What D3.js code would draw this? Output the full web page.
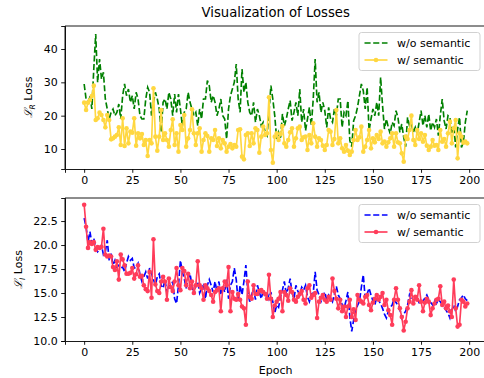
<!DOCTYPE html>
<html><head><meta charset="utf-8">
<script src="https://cdnjs.cloudflare.com/ajax/libs/d3/7.8.5/d3.min.js"></script>
<style>
html,body{margin:0;padding:0;background:#fff;}
svg{display:block;font-family:"DejaVu Sans",sans-serif;}
</style></head><body>
<script>
// ---- data ----
const epochs = d3.range(0, 200);
const xTicks = [0, 25, 50, 75, 100, 125, 150, 175, 200];
const topYTicks = [10, 20, 30, 40];
const botYTicks = [10.0, 12.5, 15.0, 17.5, 20.0, 22.5];
const seriesNames = ["w/o semantic", "w/ semantic"];

const lossR_wo = [
29.5,25,24,26,22,34,44.5,30,37,31,33,25,22,19,21,22,20,21,23.5,19,
26,29.5,26,28,24,26,22,27,25,20,19,19,25,28.5,27,20,24,27,25,22,
15,24,25,22,27,25,20,26.5,21,26.5,22,17,21,22,27,24,22,20,21,17,
22,19,25,25,30.5,29,24,26,24,20,22,25,20,19,13,22,26,28,30,35.5,
25,21,34,27,30,24,21,20,24,18,22,20,17,18,15,14,21,29,25,20,
13,15,13,20.5,17,19,22,24.5,18.5,21,24,20,28,18,22,15.5,19,22.5,17,25,
37,24,27,21,24,21.5,16.5,22.5,19,18,22,20,25,25,16.5,21,20,24.5,12.5,10.7,
18.5,20,22.5,26,29.5,27.5,22,28.5,15.5,19,22,20,24,20,31.5,23,16,19,16.5,14.5,
18,17,21.5,19.5,15,17.5,13.5,10.7,19.5,17,17.5,15,16.5,14.5,18,21.5,17,20,16.5,20.5,
15.5,18,16.5,19,14,20,25,18.5,16,20,19.5,14.5,17,10.5,16,19.5,10.5,12,18,21.5];

const lossR_w = [
23.9,21.7,23.9,24.7,25.9,29,18.7,19.2,20.9,20.2,18.7,16.5,20.2,18.7,12.9,13.2,13.7,14.2,16.5,11.2,
19.2,10.9,16.2,11.7,15.2,14.9,19.2,11,14.7,13.2,14.5,11.2,12.7,7.9,12.7,11.7,28.2,13.7,9.5,13.7,
21.7,12.7,14.7,12.7,10.7,15.7,18.9,11.2,14.7,9.2,17.2,15.7,20.2,10.7,13.2,15.7,21.9,14.7,11.2,14.7,
16.2,9.2,12.7,14.7,13.9,9.2,13.2,12.7,15.7,10.9,13.2,10.2,12.7,11.7,9.2,10.7,11.5,10.2,11.2,10.7,
15.7,15.9,7.7,6.9,14.2,14.7,10.9,14.7,11.7,16.2,15.7,8.9,13.7,16.7,14.2,14.7,25.5,9.7,5.9,13.7,
14.7,12.7,14.5,16.9,11.7,10.7,12.7,15,16.2,10.7,13.2,16.2,16.7,12.7,13.5,13.7,9.7,14.2,11.7,17.7,
13.7,10.7,13.2,12.7,11,9.7,11.2,15.7,15.2,11.2,13,21.7,11.7,13.2,10.2,9.2,11.2,9.5,8.2,9.2,
12.7,15.7,12.7,13.5,16.7,9.2,10.7,12.7,15.7,10.2,13.2,12,14.2,13,15.2,11.7,12.2,10.7,12,13.2,
14.7,10.7,14.7,12,11.7,8.7,6.2,13.7,13,15.7,20,12.7,11.2,15.7,13,14.7,12.2,14.2,11,9.7,
10.7,12.7,11,11.2,9.7,15.7,12.2,13,10.7,14.7,18.2,11.7,16.2,18.7,7.2,14.7,13.7,11.9,12.2,11.7];

const lossI_wo = [
22.8,21.9,20.3,21.4,20.2,20.7,19.7,19.3,19.5,20,19.0,19.3,20.5,18.4,19.1,17.9,18.4,17.7,17.9,17.6,
17.7,17.2,18.1,18.8,18.4,18.6,17.6,17.7,18.1,16.9,16.2,16.7,17.2,16.5,17.6,17.0,16.4,15.8,16.7,17.0,
15.8,15.5,16.4,15.0,15.8,15.7,16.2,14.4,13.9,15.8,18.4,17.2,16.5,15.5,16.5,17.0,15.8,14.8,15.8,16.2,
15.0,15.5,15.8,14.4,15.8,16.4,15.8,15.1,16.2,15.1,16.2,14.8,15.8,15.1,16.4,14.4,15.8,16.2,17.6,16.4,
14.1,15.8,14.8,16.2,17.9,15.1,14.1,14.8,15.5,14.3,15.8,15.1,14.4,15.3,14.8,15.1,14.4,15.1,14.1,12.9,
13.75,13.5,14.6,15.3,16.2,14.9,15.5,16.5,15.0,14.4,15.8,15.2,14.8,15.6,15.3,15.8,14.6,14.1,14.9,15.0,
17.2,15.3,14.8,14.1,14.6,15.1,14.3,14.8,14.5,14.1,14.9,15.7,14.8,14.4,13.8,13.4,14.2,15.1,12.5,11.0,
12.2,13.1,13.7,14.1,15.6,16.9,14.4,14.9,15.5,14.8,14.2,13.75,14.6,14.2,13.9,13.4,12.8,12.4,13.1,13.5,
13.75,14.4,14.0,13.75,13.3,12.4,12.8,13.1,13.75,14.8,14.3,14.1,14.6,14.4,14.0,14.3,14.1,14.5,14.8,14.3,
14.0,13.75,14.2,13.9,14.3,14.1,13.75,13.5,13.2,12.9,12.4,13.2,13.75,13.1,13.6,14.3,14.5,14.8,14.4,14.2];

const lossI_w = [
24.2,21.9,19.7,20.3,20.1,20.3,19.5,19.8,19.7,19.8,21.7,19.0,18.8,18.9,18.8,17.7,17.4,18.3,16.4,19.0,
18.5,17.9,17.0,17.0,17.1,17.6,16.5,16.95,17.9,16.7,16.8,15.8,15.4,15.2,17.2,14.5,20.6,15.9,15.2,15.0,
16.2,16.7,16.2,14.3,16.5,15.6,15.2,16.2,17.6,15.8,15.3,17.6,17.3,15.8,17.0,15.5,16.2,15.0,15.8,18.3,
15.8,15.5,14.3,15.8,15.5,15.2,14.8,14.1,15.1,15.3,15.5,13.1,15.5,16.2,15.8,17.7,13.1,15.1,14.4,14.3,
14.9,14.3,13.6,13.4,11.7,16.2,14.6,14.4,15.8,14.9,14.9,15.2,15.3,15.1,14.9,14.4,16.9,14.4,12.5,13.7,
14.1,14.4,15.1,13.1,15.1,14.8,14.2,15.5,15.1,14.3,14.1,14.6,14.9,15.2,14.3,13.9,15.5,15.8,14.5,14.8,
15.0,12.4,14.1,14.5,14.8,14.3,14.1,14.6,14.3,16.5,15.2,14.4,13.4,14.3,13.1,13.6,12.5,13.6,14.3,12.5,
13.3,12.2,14.8,14.3,14.1,13.9,14.6,14.8,13.75,13.2,14.0,14.4,14.8,14.3,14.6,15.0,13.75,14.3,13.2,12.7,
11.7,14.3,15.5,14.3,13.4,12.5,11.1,12.0,13.4,14.1,15.3,13.9,14.6,14.3,15.8,14.1,13.1,14.0,14.4,14.1,
12.7,13.4,13.9,14.3,14.4,15.7,13.75,14.1,13.4,13.7,13.1,12.5,16.4,13.4,11.5,11.7,14.3,14.1,13.6,13.9];

// ---- styles ----
const W = 484, H = 378;
const font = '"DejaVu Sans", sans-serif';
const svg = d3.select("body").append("svg").attr("width", W).attr("height", H);

const x = d3.scaleLinear().domain([-9.95, 208.95]).range([65, 486.4]);

function panel(cfg) {
  const y = d3.scaleLinear().domain(cfg.yDomain).range([cfg.bottom, cfg.top]);
  const g = svg.append("g");
  const clipId = "clip" + cfg.id;
  svg.append("clipPath").attr("id", clipId).append("rect")
    .attr("x", 65).attr("y", cfg.top).attr("width", 422).attr("height", cfg.bottom - cfg.top);
  const plot = g.append("g").attr("clip-path", `url(#${clipId})`);

  const line = d3.line().x((d, i) => x(epochs[i])).y(d => y(d));
  // dashed series
  plot.append("path").datum(cfg.wo).attr("d", line)
    .attr("fill", "none").attr("stroke", cfg.woColor).attr("stroke-width", 1.65)
    .attr("stroke-dasharray", "6.1,2.6");
  // marker series
  plot.append("path").datum(cfg.w).attr("d", line)
    .attr("fill", "none").attr("stroke", cfg.wColor).attr("stroke-width", 1.65)
    .attr("stroke-linejoin", "round");
  plot.selectAll("circle.m").data(cfg.w).join("circle").attr("class", "m")
    .attr("cx", (d, i) => x(epochs[i])).attr("cy", d => y(d)).attr("r", 2.3)
    .attr("fill", cfg.wColor);

  // spines
  g.append("line").attr("x1", 65).attr("x2", 65).attr("y1", cfg.top).attr("y2", cfg.bottom).attr("stroke", "#000").attr("stroke-width", 0.9);
  g.append("line").attr("x1", 65).attr("x2", 486.4).attr("y1", cfg.top).attr("y2", cfg.top).attr("stroke", "#000").attr("stroke-width", 0.9);
  g.append("line").attr("x1", 486.4).attr("x2", 486.4).attr("y1", cfg.top).attr("y2", cfg.bottom).attr("stroke", "#000").attr("stroke-width", 0.9);

  // axes
  const xa = g.append("g").attr("transform", `translate(0,${cfg.bottom})`)
    .call(d3.axisBottom(x).tickValues(xTicks).tickSize(3.8).tickPadding(3.5).tickFormat(d3.format("d")));
  const ya = g.append("g").attr("transform", `translate(65,0)`)
    .call(d3.axisLeft(y).tickValues(cfg.yTicks).tickSize(3.8).tickPadding(3.5).tickFormat(cfg.yFmt));
  [xa, ya].forEach(a => {
    a.select(".domain").attr("stroke", "#000").attr("stroke-width", 0.9);
    a.selectAll(".tick line").attr("stroke", "#000").attr("stroke-width", 0.9);
    a.selectAll("text").attr("font-family", font).attr("font-size", 11).attr("fill", "#000");
  });

  // y label
  const yl = g.append("text").attr("transform", `translate(${cfg.ylabX},${(cfg.top + cfg.bottom) / 2}) rotate(-90)`)
    .attr("text-anchor", "middle").attr("font-family", font).attr("font-size", 11).attr("fill", "#000");
  yl.append("tspan").attr("font-family", '"DejaVu Serif", serif').attr("font-style", "italic").text("ℒ");
  yl.append("tspan").attr("font-size", 7.7).attr("dy", 2.5).attr("font-style", "italic").text(cfg.sub);
  yl.append("tspan").attr("dy", -2.5).text(" Loss");

  // legend
  const lg = g.append("g").attr("transform", `translate(359,${cfg.top + 6.5})`);
  lg.append("rect").attr("width", 121).attr("height", 38).attr("rx", 2.5)
    .attr("fill", "#fff").attr("fill-opacity", 0.8).attr("stroke", "#cccccc").attr("stroke-width", 0.9);
  const rows = [{name: seriesNames[0], c: cfg.woColor, dash: true}, {name: seriesNames[1], c: cfg.wColor, dash: false}];
  rows.forEach((r, i) => {
    const cy = 10.5 + i * 17;
    lg.append("line").attr("x1", 5.5).attr("x2", 28.5).attr("y1", cy).attr("y2", cy)
      .attr("stroke", r.c).attr("stroke-width", 1.65).attr("stroke-dasharray", r.dash ? "6.1,2.6" : null);
    if (!r.dash) lg.append("circle").attr("cx", 17).attr("cy", cy).attr("r", 2.3).attr("fill", r.c);
    lg.append("text").attr("x", 38).attr("y", cy).attr("dy", "0.36em")
      .attr("font-family", font).attr("font-size", 11).attr("fill", "#000").text(r.name);
  });
  return g;
}

panel({id: 1, top: 26, bottom: 169, yDomain: [4.0, 46.9], yTicks: topYTicks, yFmt: d3.format("d"),
  wo: lossR_wo, w: lossR_w, woColor: "#008000", wColor: "#FFD740", sub: "R", ylabX: 32});
panel({id: 2, top: 198, bottom: 341, yDomain: [10.0, 24.9], yTicks: botYTicks, yFmt: d3.format(".1f"),
  wo: lossI_wo, w: lossI_w, woColor: "#0000FF", wColor: "#FF3C5A", sub: "I", ylabX: 22});

svg.append("text").attr("x", x(99.5)).attr("y", 17).attr("text-anchor", "middle")
  .attr("font-family", font).attr("font-size", 13.2).attr("fill", "#000").text("Visualization of Losses");
svg.append("text").attr("x", x(99.5)).attr("y", 374).attr("text-anchor", "middle")
  .attr("font-family", font).attr("font-size", 11).attr("fill", "#000").text("Epoch");
</script>
</body></html>
